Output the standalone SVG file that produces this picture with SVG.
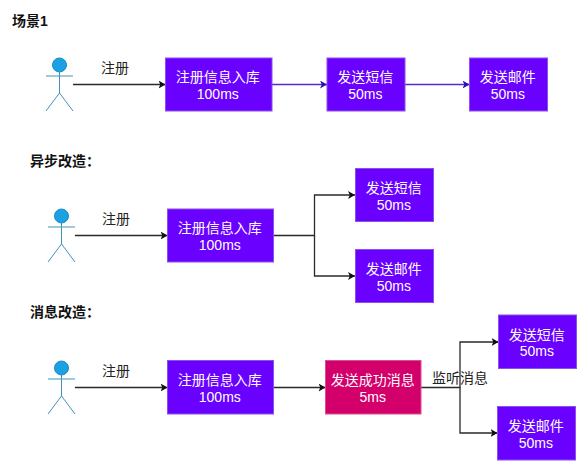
<svg xmlns="http://www.w3.org/2000/svg" width="584" height="475" viewBox="0 0 584 475">
<style>
text{font-family:"Liberation Sans","Noto Sans CJK SC",sans-serif;font-size:14px}
.box{fill:#6a00ff;stroke:#8a50e8;stroke-width:1}
.pink{fill:#d3006c;stroke:#d85090;stroke-width:1}
.lbl{fill:#fff;text-anchor:middle}
.title{font-weight:700;fill:#111}
.note{fill:#222;text-anchor:middle}
.c{fill:none;stroke:#2a2a2a;stroke-width:1.3}
.p{fill:none;stroke:#5a2bc8;stroke-width:1.3}
.head{fill:#1ba1e2;stroke:#1b8cc4;stroke-width:1}
.limb{fill:none;stroke:#3f93bb;stroke-width:1}
</style>
<defs>
<marker id="a" markerUnits="userSpaceOnUse" markerWidth="8" markerHeight="8" refX="7" refY="4" orient="auto"><path d="M0 0L7 4L0 8L1.8 4Z" fill="#111"/></marker>
<marker id="b" markerUnits="userSpaceOnUse" markerWidth="8" markerHeight="8" refX="7" refY="4" orient="auto"><path d="M0 0L7 4L0 8L1.8 4Z" fill="#3010b0"/></marker>
<g id="actor"><circle class="head" cx="0" cy="0" r="7"/><path class="limb" d="M0 7V28M-13.500 11H13.500M-13.500 46L0 28L13.500 46"/></g>
</defs>
<rect width="584" height="475" fill="#fff"/>
<text class="title" x="12" y="25.500">场景1</text>
<text class="title" x="30" y="166">异步改造：</text>
<text class="title" x="30" y="317">消息改造：</text>
<g id="connectors">
<path class="c" marker-end="url(#a)" d="M73 84.500H165.500"/>
<path class="p" marker-end="url(#b)" d="M272 84.500H327"/>
<path class="p" marker-end="url(#b)" d="M405 84.500H469.500"/>
<path class="c" marker-end="url(#a)" d="M75 235.500H167.500"/>
<path class="c" marker-end="url(#a)" d="M273.500 235.500H314.500V195H355"/>
<path class="c" marker-end="url(#a)" d="M314.500 235.500V276H355"/>
<path class="c" marker-end="url(#a)" d="M75 387.500H167.500"/>
<path class="c" marker-end="url(#a)" d="M273.500 387.500H325.500"/>
<path class="c" marker-end="url(#a)" d="M421 387.500H460V342H498.500"/>
<path class="c" marker-end="url(#a)" d="M460 387.500V433H497.500"/>
</g>
<text class="note" x="115" y="73">注册</text>
<text class="note" x="116" y="224">注册</text>
<text class="note" x="116" y="376">注册</text>
<text class="note" x="460" y="383">监听消息</text>
<g id="actor1"><use href="#actor" x="59.500" y="65"/></g>
<g id="actor2"><use href="#actor" x="61.500" y="216"/></g>
<g id="actor3"><use href="#actor" x="61.500" y="368"/></g>
<g id="s1-db"><rect class="box" x="165.500" y="58" width="106.500" height="53"/><text class="lbl" x="217.800" y="82">注册信息入库</text><text class="lbl" x="217.800" y="99">100ms</text></g>
<g id="s1-sms"><rect class="box" x="327" y="58" width="78" height="53"/><text class="lbl" x="365.300" y="82">发送短信</text><text class="lbl" x="365.300" y="99">50ms</text></g>
<g id="s1-mail"><rect class="box" x="469.500" y="58" width="78" height="53"/><text class="lbl" x="507.800" y="82">发送邮件</text><text class="lbl" x="507.800" y="99">50ms</text></g>
<g id="s2-db"><rect class="box" x="167.500" y="209" width="106" height="53"/><text class="lbl" x="219.800" y="233">注册信息入库</text><text class="lbl" x="219.800" y="250">100ms</text></g>
<g id="s2-sms"><rect class="box" x="355.500" y="168.500" width="78" height="53"/><text class="lbl" x="393.800" y="193">发送短信</text><text class="lbl" x="393.800" y="209.500">50ms</text></g>
<g id="s2-mail"><rect class="box" x="355.500" y="249.500" width="78" height="53"/><text class="lbl" x="393.800" y="274">发送邮件</text><text class="lbl" x="393.800" y="290.500">50ms</text></g>
<g id="s3-db"><rect class="box" x="167.500" y="360.500" width="106" height="53.500"/><text class="lbl" x="219.800" y="385">注册信息入库</text><text class="lbl" x="219.800" y="401.500">100ms</text></g>
<g id="s3-msg"><rect class="pink" x="325.500" y="360.500" width="95.500" height="53.500"/><text class="lbl" x="372.800" y="385">发送成功消息</text><text class="lbl" x="372.800" y="401.500">5ms</text></g>
<g id="s3-sms"><rect class="box" x="498.500" y="315" width="78" height="53.500"/><text class="lbl" x="536.800" y="339.500">发送短信</text><text class="lbl" x="536.800" y="356">50ms</text></g>
<g id="s3-mail"><rect class="box" x="497.500" y="406.500" width="78" height="53.500"/><text class="lbl" x="535.800" y="431">发送邮件</text><text class="lbl" x="535.800" y="447.500">50ms</text></g>
</svg>
